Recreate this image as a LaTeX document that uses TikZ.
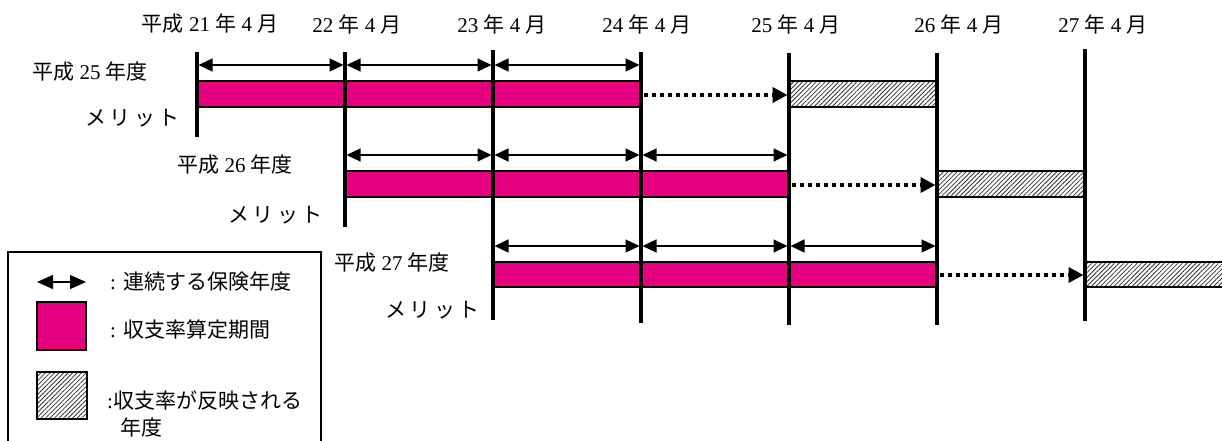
\documentclass[tikz,border=0pt]{standalone}
\usepackage{fontspec}
\setmainfont{Liberation Serif}
\newfontfamily\jp{Noto Sans CJK JP}
\usetikzlibrary{arrows.meta,patterns.meta}
\definecolor{mag}{RGB}{228,0,127}
\begin{document}
\begin{tikzpicture}[x=1pt,y=-1pt,
  vline/.style={line width=3.6pt},
  span/.style={{Triangle[length=14pt,width=13pt]}-{Triangle[length=14pt,width=13pt]}, line width=1.3pt, shorten <=1.5pt, shorten >=1.5pt},
  calcbar/.style={draw=black, line width=1.3pt, fill=mag},
  reflbar/.style={draw=black, line width=1.3pt, pattern={Lines[angle=45,distance=3.2pt,line width=0.8pt]}, pattern color=black!80},
  carry/.style={line width=3.6pt, dash pattern=on 3.6pt off 4.4pt, -{Triangle[length=15pt,width=15pt]}, shorten >=1.5pt},
  lbl/.style={font=\fontsize{21}{24}\selectfont, inner sep=0pt},
  legbox/.style={draw=black, line width=1.3pt}]
\useasboundingbox (0,0) rectangle (1222,441);
% vertical line coordinates
\foreach \i/\x/\t/\b in {0/197/52/137, 1/345/52/227, 2/493/50/320, 3/641/52/323, 4/789/53/325, 5/937/53/325, 6/1085/49/321}{
  \coordinate (t\i) at (\x,\t);
  \coordinate (b\i) at (\x,\b);
}
% date labels
\node[lbl] (d0) at (210,24) {{\jp 平成} 21 {\jp 年} 4 {\jp 月}};
\node[lbl] (d1) at (357,24) {22 {\jp 年} 4 {\jp 月}};
\node[lbl] (d2) at (502,24) {23 {\jp 年} 4 {\jp 月}};
\node[lbl] (d3) at (647,24) {24 {\jp 年} 4 {\jp 月}};
\node[lbl] (d4) at (796,24) {25 {\jp 年} 4 {\jp 月}};
\node[lbl] (d5) at (959,24) {26 {\jp 年} 4 {\jp 月}};
\node[lbl] (d6) at (1103,24) {27 {\jp 年} 4 {\jp 月}};
% row labels
\node[lbl,anchor=east] (r1) at (148,72) {{\jp 平成} 25 {\jp 年度}};
\node[lbl,anchor=east] (m1) at (180,118) {\jp メ\,リ\,ッ\,ト};
\node[lbl,anchor=east] (r2) at (293,165) {{\jp 平成} 26 {\jp 年度}};
\node[lbl,anchor=east] (m2) at (323,215) {\jp メ\,リ\,ッ\,ト};
\node[lbl,anchor=east] (r3) at (450,263) {{\jp 平成} 27 {\jp 年度}};
\node[lbl,anchor=east] (m3) at (480,310) {\jp メ\,リ\,ッ\,ト};
% row 1
\draw[calcbar] (t0 |- 0,81) rectangle (t3 |- 0,107);
\draw[reflbar] (t4 |- 0,81) rectangle (t5 |- 0,107);
% row 2
\draw[calcbar] (t1 |- 0,171) rectangle (t4 |- 0,197);
\draw[reflbar] (t5 |- 0,171) rectangle (t6 |- 0,197);
% row 3
\draw[calcbar] (t2 |- 0,262) rectangle (t5 |- 0,287);
\draw[reflbar] (t6 |- 0,262) rectangle (1230,287);
% vertical lines
\foreach \i in {0,...,6}{ \draw[vline] (t\i) -- (b\i); }
% spans
\foreach \a/\b in {0/1,1/2,2/3}{ \draw[span] (t\a |- 0,65) -- (t\b |- 0,65); }
\foreach \a/\b in {1/2,2/3,3/4}{ \draw[span] (t\a |- 0,155) -- (t\b |- 0,155); }
\foreach \a/\b in {2/3,3/4,4/5}{ \draw[span] (t\a |- 0,246) -- (t\b |- 0,246); }
% carry arrows
\draw[carry] (t3 |- 0,95) ++(3,0) -- (t4 |- 0,95);
\draw[carry] (t4 |- 0,185) ++(3,0) -- (t5 |- 0,185);
\draw[carry] (t5 |- 0,275) ++(3,0) -- (t6 |- 0,275);
% legend
\draw[legbox] (8,252) rectangle (321,450);
\coordinate (la) at (37,282);
\coordinate (lb) at (86,282);
\draw[{Triangle[length=16pt,width=14pt]}-{Triangle[length=16pt,width=14pt]}, line width=1.3pt] (la) -- (lb);
\node[lbl,anchor=west] (l1) at (110,282) {: {\jp 連続する保険年度}};
\draw[calcbar] (37,302) rectangle (86,350);
\node[lbl,anchor=west] (l2) at (110,330) {: {\jp 収支率算定期間}};
\draw[reflbar] (37,372) rectangle (87,419);
\node[lbl,anchor=west] (l3) at (107,400) {:{\jp 収支率が反映される}};
\node[lbl,anchor=west] (l4) at (120,427) {\jp 年度};
\end{tikzpicture}
\end{document}
